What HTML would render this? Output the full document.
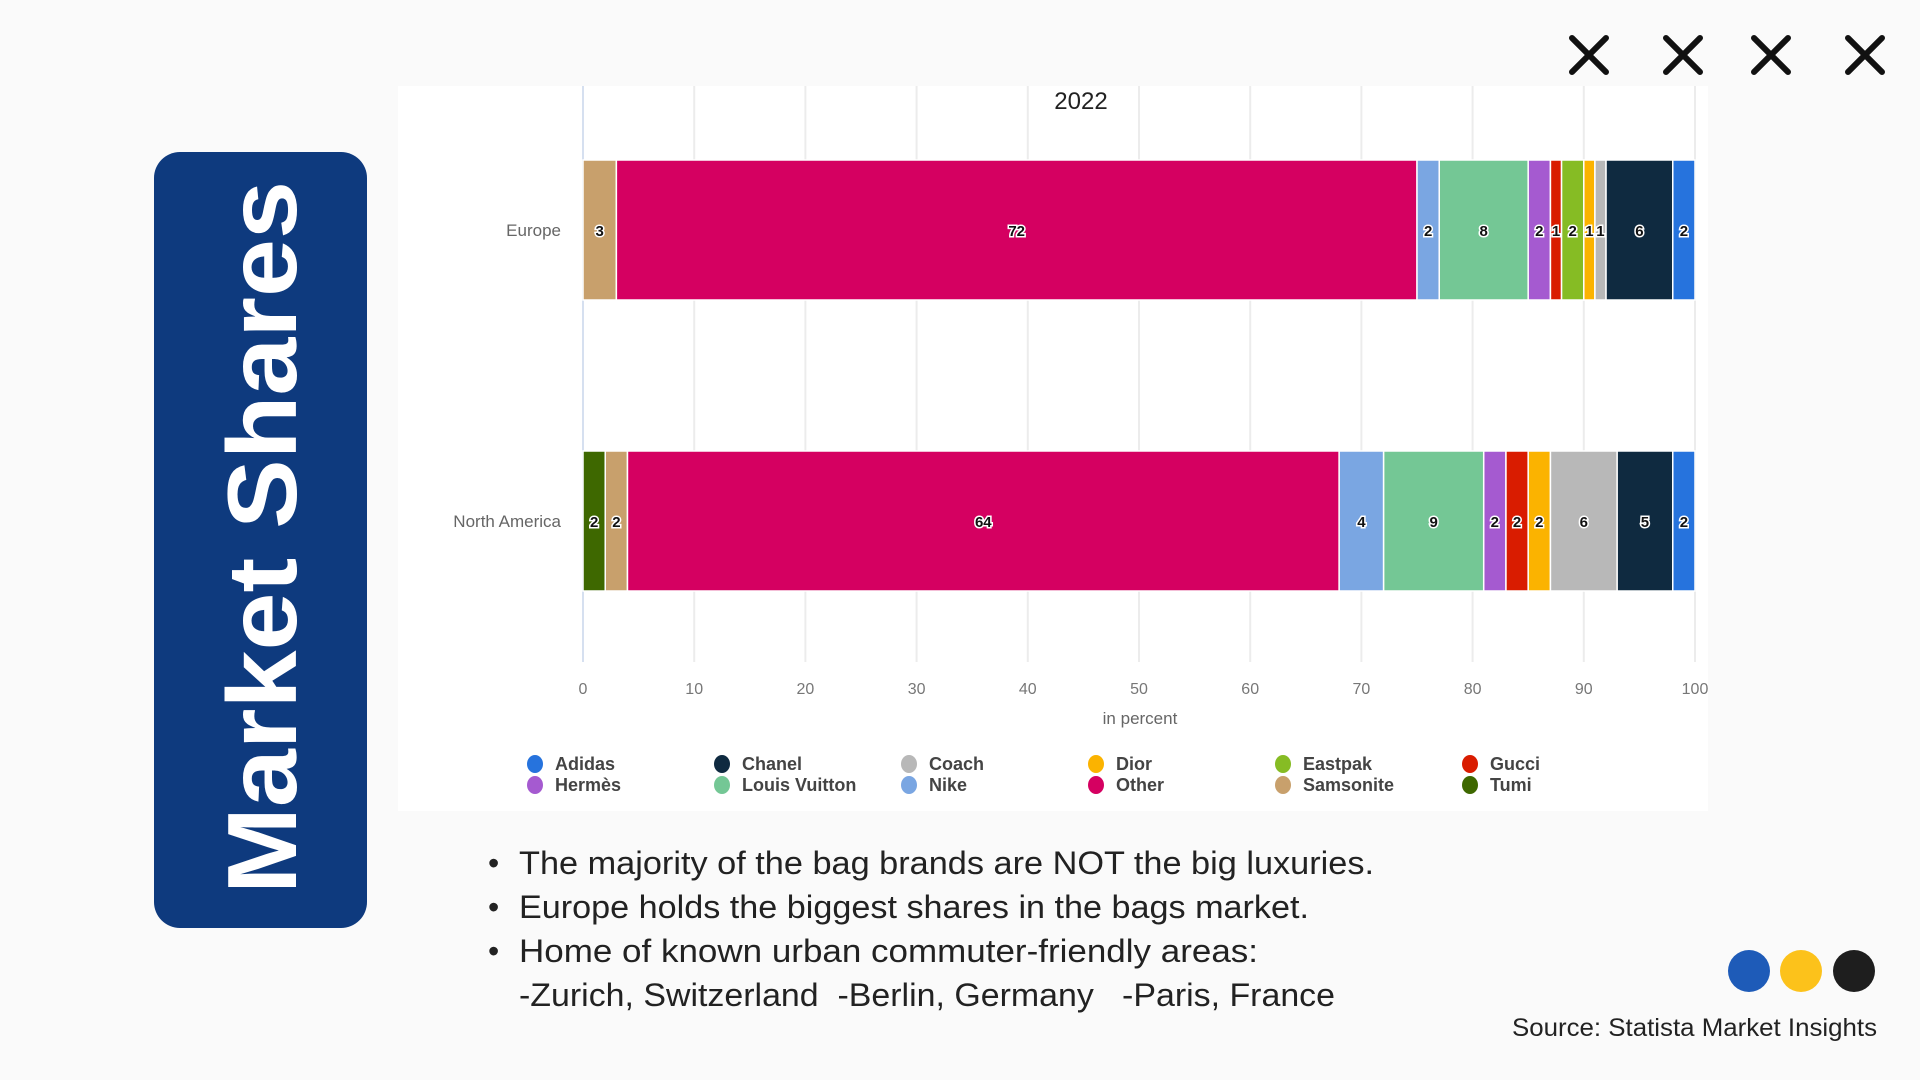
<!DOCTYPE html>
<html><head><meta charset="utf-8"><style>
html,body{margin:0;padding:0;background:#fafafa;}
svg{display:block;font-family:"Liberation Sans",sans-serif;}
</style></head><body>
<svg id="root" width="1920" height="1080" viewBox="0 0 1920 1080" xmlns="http://www.w3.org/2000/svg">
<rect x="0" y="0" width="1920" height="1080" fill="#fafafa"/>
<g>
<rect x="154" y="152" width="213" height="776" rx="26" fill="#0e3a7e"/>
<text transform="translate(296,894) rotate(-90)" font-size="98" font-weight="bold" fill="#fff" textLength="713" lengthAdjust="spacingAndGlyphs">Market Shares</text>
</g>
<g stroke="#111" stroke-width="6" stroke-linecap="round">
<path d="M1572 38 L1606 72 M1606 38 L1572 72"/>
<path d="M1666 38 L1700 72 M1700 38 L1666 72"/>
<path d="M1754 38 L1788 72 M1788 38 L1754 72"/>
<path d="M1848 38 L1882 72 M1882 38 L1848 72"/>
</g>
<rect x="398" y="86" width="1310" height="725" fill="#fff"/>
<text x="1081" y="109" font-size="24" text-anchor="middle" fill="#222">2022</text>
<g id="grid"></g>
<g id="bars"></g>
<g id="legend"></g>
<text x="1140" y="724" font-size="17" text-anchor="middle" fill="#666">in percent</text>
<g font-size="32" fill="#222">
<text x="488" y="874">•</text>
<text x="519" y="874" textLength="855" lengthAdjust="spacingAndGlyphs">The majority of the bag brands are NOT the big luxuries.</text>
<text x="488" y="918">•</text>
<text x="519" y="918" textLength="790" lengthAdjust="spacingAndGlyphs">Europe holds the biggest shares in the bags market.</text>
<text x="488" y="962">•</text>
<text x="519" y="962" textLength="739" lengthAdjust="spacingAndGlyphs">Home of known urban commuter-friendly areas:</text>
<text x="519" y="1006" xml:space="preserve" textLength="816" lengthAdjust="spacingAndGlyphs">-Zurich, Switzerland  -Berlin, Germany   -Paris, France</text>
</g>
<ellipse cx="1749" cy="971" rx="21" ry="21" fill="#1e5bb8"/>
<ellipse cx="1801" cy="971" rx="21" ry="21" fill="#fcc21b"/>
<ellipse cx="1854" cy="971" rx="21" ry="21" fill="#1e1e1e"/>
<text x="1877" y="1036" font-size="25" text-anchor="end" fill="#222" textLength="365" lengthAdjust="spacingAndGlyphs">Source: Statista Market Insights</text>
</svg>
<script>
const categories = ["Europe", "North America"];
const brands = ["Tumi","Samsonite","Other","Nike","Louis Vuitton","Hermès","Gucci","Eastpak","Dior","Coach","Chanel","Adidas"];
const europeValues = [0,3,72,2,8,2,1,2,1,1,6,2];
const northAmericaValues = [2,2,64,4,9,2,2,0,2,6,5,2];
const tickValues = [0,10,20,30,40,50,60,70,80,90,100];
const legendOrder = ["Adidas","Chanel","Coach","Dior","Eastpak","Gucci","Hermès","Louis Vuitton","Nike","Other","Samsonite","Tumi"];
const colors = {"Adidas":"#2673dd","Chanel":"#0f2a40","Coach":"#b8b8b8","Dior":"#fbb300","Eastpak":"#86bc24","Gucci":"#d91c00","Hermès":"#a55ad0","Louis Vuitton":"#74c795","Nike":"#7aa6e2","Other":"#d50061","Samsonite":"#c8a06c","Tumi":"#3e6800"};
const NS="http://www.w3.org/2000/svg";
const X0=583,X1=1695;
function xs(v){return X0+(X1-X0)*v/100;}
const rowY=[160,451], barH=140;
function mk(t,a,p){const e=document.createElementNS(NS,t);for(const k in a)e.setAttribute(k,a[k]);p.appendChild(e);return e;}
const grid=document.getElementById('grid');
tickValues.forEach(function(t){
  const l=mk('line',{x1:xs(t),x2:xs(t),y1:86,y2:662,stroke:t===0?'#d6e0f0':'#ececec','stroke-width':2},grid);
  
  
  const tx=mk('text',{x:xs(t),y:694,'font-size':16,'text-anchor':'middle',fill:'#777'},grid);
  tx.textContent=t;
  
  
});
const bars=document.getElementById('bars');
[europeValues,northAmericaValues].forEach(function(vals,ri){
  const cl=mk('text',{x:561,y:rowY[ri]+barH/2+6,'font-size':17,'text-anchor':'end',fill:'#666'},bars);
  cl.textContent=categories[ri];
  
  
  let acc=0;
  vals.forEach(function(v,i){
    if(v<=0){return;}
    const x=xs(acc),w=xs(acc+v)-xs(acc);
    const r=mk('rect',{x:x,y:rowY[ri],width:w,height:barH,fill:colors[brands[i]],stroke:'#fff','stroke-width':1.5},bars);
    
    
    const t=mk('text',{x:x+w/2,y:rowY[ri]+barH/2+6,'font-size':15,'font-weight':'bold','text-anchor':'middle',fill:'#111',stroke:'#fff','stroke-width':3,'paint-order':'stroke'},bars);
    t.textContent=v;
    
    
    acc+=v;
  });
});
const legend=document.getElementById('legend');
const colX=[535,722,909,1096,1283,1470];
legendOrder.forEach(function(b,i){
  const cx=colX[i%6],cy=i<6?764:785;
  const c=mk('ellipse',{cx:cx,cy:cy,rx:8,ry:9,fill:colors[b]},legend);
  
  
  const t=mk('text',{x:cx+20,y:cy+6,'font-size':18,'font-weight':'bold',fill:'#444'},legend);
  t.textContent=b;
  
  
});
</script>
</body></html>
